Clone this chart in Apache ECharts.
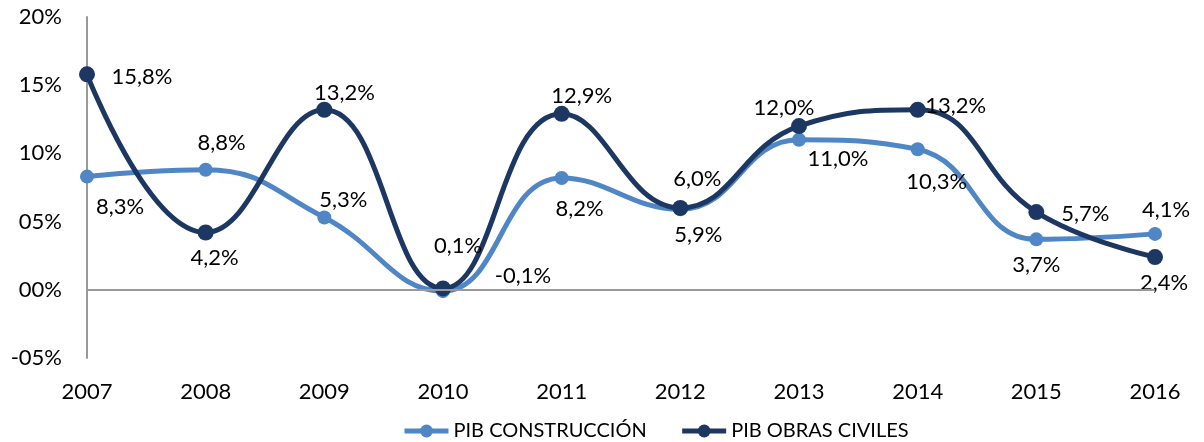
<!DOCTYPE html>
<html><head><meta charset="utf-8">
<script src="https://cdn.jsdelivr.net/npm/echarts@6/dist/echarts.min.js"></script>
<style>html,body{margin:0;padding:0;background:#fff}#c{width:1204px;height:442px}</style>
</head><body><div id="c"></div>
<script>
var categories = ['2007','2008','2009','2010','2011','2012','2013','2014','2015','2016'];
var construccion = [8.3, 8.8, 5.3, -0.1, 8.2, 5.9, 11.0, 10.3, 3.7, 4.1];
var obrasCiviles = [15.8, 4.2, 13.2, 0.1, 12.9, 6.0, 12.0, 13.2, 5.7, 2.4];
var yTicks = [-5, 0, 5, 10, 15, 20];

// label offsets (style only)
var offConstr = [[33,30],[16,-27],[19,-18],[80,-15],[18,31],[18,26],[39,19],[19,33],[0,26],[11,-24]];
var offObras = [[55,3],[9,25],[20,-17],[15,-43],[20,-18],[17,-29],[-15,-18],[38,-4],[49,2],[9,26]];

var FONT = 'Lato';
var FS = 22;
function fmt(v){ return v.toFixed(1).replace('.', ',') + '%'; }
function mk(vals, offs){
  return vals.map(function(v,i){
    return {value: v, label: {show: true, position: 'inside', offset: offs[i], formatter: fmt(v)}};
  });
}
function pad(v){ var a = Math.abs(v); var s = (a < 10 ? '0' : '') + a; return (v < 0 ? '-' : '') + s + '%'; }

var chart = echarts.init(document.getElementById('c'), null, {renderer: 'canvas'});
chart.setOption({
  animation: false,
  textStyle: {fontFamily: FONT},
  grid: {left: 87, right: 49, top: 17, bottom: 84},
  legend: {
    left: 397, top: 416, itemGap: 33, itemWidth: 44, itemHeight: 16,
    lineStyle: {width: 5},
    textStyle: {fontFamily: FONT, fontSize: 20, color: '#000'},
    data: ['PIB CONSTRUCCIÓN', 'PIB OBRAS CIVILES']
  },
  xAxis: {
    type: 'category', data: categories, boundaryGap: false,
    axisLine: {show: false, onZero: false}, axisTick: {show: false},
    axisLabel: {color: '#000', fontSize: FS, fontFamily: FONT, margin: 23}
  },
  yAxis: {
    type: 'value', min: yTicks[0], max: yTicks[yTicks.length-1], interval: 5,
    axisLine: {show: true, lineStyle: {color: '#999999', width: 2}},
    axisTick: {show: false}, splitLine: {show: false},
    axisLabel: {color: '#000', fontSize: FS, fontFamily: FONT, margin: 25, formatter: pad}
  },
  series: [
    {
      name: 'PIB CONSTRUCCIÓN', type: 'line', smooth: 0.45, data: mk(construccion, offConstr),
      symbol: 'circle', symbolSize: 14,
      lineStyle: {color: '#4F86C6', width: 5}, itemStyle: {color: '#4F86C6'},
      label: {color: '#000', fontSize: FS, fontFamily: FONT},
      markLine: {silent: true, symbol: 'none', label: {show: false},
        lineStyle: {color: '#999999', width: 2, type: 'solid'}, data: [{yAxis: 0}]},
      z: 2
    },
    {
      name: 'PIB OBRAS CIVILES', type: 'line', smooth: 0.45, data: mk(obrasCiviles, offObras),
      symbol: 'circle', symbolSize: 16,
      lineStyle: {color: '#1C3862', width: 5}, itemStyle: {color: '#1C3862'},
      label: {color: '#000', fontSize: FS, fontFamily: FONT},
      z: 3
    }
  ]
});
</script></body></html>
